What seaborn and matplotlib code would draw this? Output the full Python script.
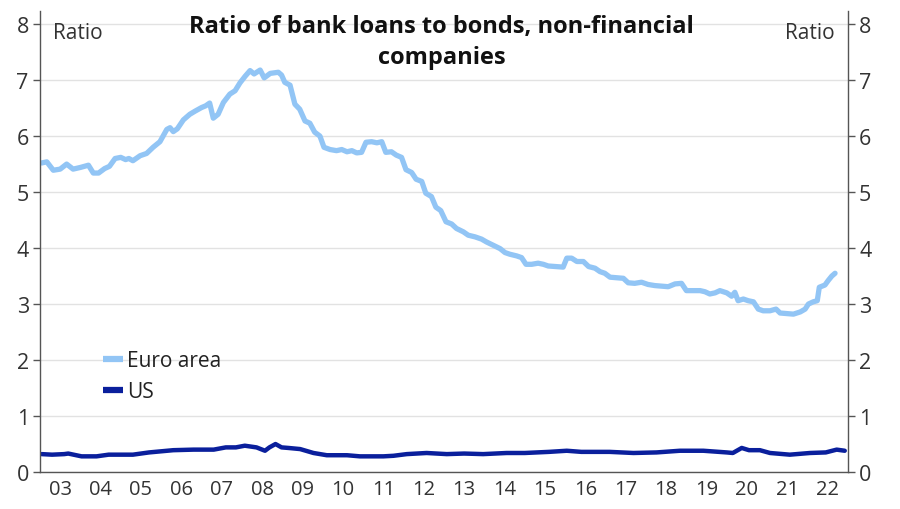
import matplotlib
matplotlib.use('Agg')
import matplotlib.pyplot as plt
import numpy as np
import pandas as pd
import seaborn as sns

# ---- data (decimal year, ratio) ----
euro_dates = [2003.04, 2003.17, 2003.33, 2003.5, 2003.66, 2003.82, 2004.0, 2004.2, 2004.32, 2004.45,
              2004.6, 2004.72, 2004.86, 2005.0, 2005.12, 2005.2, 2005.3, 2005.48, 2005.64, 2005.8,
              2005.97, 2006.14, 2006.22, 2006.3, 2006.4, 2006.55, 2006.71, 2006.85, 2007.0, 2007.1,
              2007.2, 2007.29, 2007.41, 2007.54, 2007.7, 2007.83, 2007.95, 2008.08, 2008.2, 2008.3,
              2008.45, 2008.55, 2008.7, 2008.9, 2008.98, 2009.06, 2009.19, 2009.31, 2009.43, 2009.56,
              2009.68, 2009.8, 2009.93, 2010.03, 2010.18, 2010.34, 2010.47, 2010.6, 2010.72, 2010.84,
              2010.96, 2011.07, 2011.21, 2011.34, 2011.46, 2011.56, 2011.7, 2011.82, 2011.95, 2012.06,
              2012.2, 2012.31, 2012.45, 2012.55, 2012.69, 2012.8, 2012.92, 2013.05, 2013.19, 2013.31,
              2013.48, 2013.6, 2013.77, 2013.93, 2014.05, 2014.22, 2014.39, 2014.51, 2014.63, 2014.8,
              2014.92, 2015.03, 2015.17, 2015.33, 2015.46, 2015.58, 2015.75, 2015.95, 2016.04, 2016.16,
              2016.29, 2016.45, 2016.58, 2016.74, 2016.86, 2016.98, 2017.11, 2017.28, 2017.44, 2017.56,
              2017.72, 2017.89, 2018.05, 2018.22, 2018.39, 2018.55, 2018.72, 2018.88, 2019.0, 2019.17,
              2019.34, 2019.46, 2019.58, 2019.71, 2019.83, 2020.0, 2020.12, 2020.2, 2020.28, 2020.41,
              2020.53, 2020.66, 2020.78, 2020.9, 2021.07, 2021.22, 2021.32, 2021.49, 2021.65, 2021.82,
              2021.94, 2022.02, 2022.14, 2022.24, 2022.29, 2022.43, 2022.51, 2022.6, 2022.68]
euro_values = [5.52, 5.54, 5.39, 5.41, 5.50, 5.41, 5.44, 5.48, 5.34, 5.34,
               5.42, 5.46, 5.60, 5.62, 5.58, 5.60, 5.56, 5.65, 5.69, 5.80,
               5.90, 6.12, 6.15, 6.08, 6.13, 6.29, 6.39, 6.45, 6.51, 6.54,
               6.59, 6.32, 6.39, 6.60, 6.75, 6.81, 6.95, 7.07, 7.17, 7.11,
               7.18, 7.04, 7.12, 7.14, 7.09, 6.96, 6.91, 6.57, 6.48, 6.27,
               6.23, 6.07, 6.00, 5.80, 5.76, 5.74, 5.76, 5.72, 5.74, 5.70,
               5.71, 5.89, 5.90, 5.88, 5.90, 5.71, 5.72, 5.66, 5.62, 5.40,
               5.35, 5.23, 5.19, 4.98, 4.92, 4.73, 4.67, 4.47, 4.43, 4.35,
               4.29, 4.23, 4.20, 4.16, 4.11, 4.05, 3.99, 3.92, 3.89, 3.86,
               3.83, 3.71, 3.71, 3.73, 3.71, 3.68, 3.67, 3.66, 3.82, 3.82,
               3.76, 3.76, 3.67, 3.64, 3.58, 3.55, 3.48, 3.47, 3.46, 3.38,
               3.37, 3.39, 3.35, 3.33, 3.32, 3.31, 3.36, 3.37, 3.24, 3.24,
               3.24, 3.22, 3.18, 3.20, 3.24, 3.20, 3.14, 3.21, 3.06, 3.09,
               3.06, 3.04, 2.91, 2.88, 2.88, 2.91, 2.84, 2.83, 2.82, 2.86,
               2.91, 3.00, 3.04, 3.06, 3.30, 3.34, 3.42, 3.50, 3.55]

us_dates = [2003.04, 2003.3, 2003.6, 2003.7, 2004.03, 2004.4, 2004.7, 2005.3, 2005.7, 2006.3,
            2006.8, 2007.3, 2007.6, 2007.85, 2008.07, 2008.36, 2008.57, 2008.68, 2008.83, 2008.98,
            2009.15, 2009.44, 2009.77, 2010.1, 2010.6, 2010.92, 2011.5, 2011.75, 2012.08, 2012.57,
            2013.07, 2013.5, 2013.97, 2014.55, 2015.0, 2015.6, 2016.04, 2016.4, 2017.1, 2017.69,
            2018.26, 2018.84, 2019.42, 2020.0, 2020.15, 2020.37, 2020.55, 2020.82, 2021.07, 2021.56,
            2022.06, 2022.45, 2022.72, 2022.92]
us_values = [0.32, 0.31, 0.32, 0.33, 0.28, 0.28, 0.31, 0.31, 0.35, 0.39,
             0.40, 0.40, 0.44, 0.44, 0.47, 0.44, 0.38, 0.44, 0.50, 0.44,
             0.43, 0.41, 0.34, 0.30, 0.30, 0.28, 0.28, 0.29, 0.32, 0.34,
             0.32, 0.33, 0.32, 0.34, 0.34, 0.36, 0.38, 0.36, 0.36, 0.34,
             0.35, 0.38, 0.38, 0.35, 0.34, 0.43, 0.39, 0.39, 0.34, 0.31,
             0.34, 0.35, 0.40, 0.38]

year_labels = ['03', '04', '05', '06', '07', '08', '09', '10', '11', '12',
               '13', '14', '15', '16', '17', '18', '19', '20', '21', '22']
series_names = ['Euro area', 'US']
series_colors = ['#92c5f5', '#0a1f9c']

df = pd.concat([
    pd.DataFrame({'date': euro_dates, 'ratio': euro_values, 'series': series_names[0]}),
    pd.DataFrame({'date': us_dates, 'ratio': us_values, 'series': series_names[1]}),
])

sns.set_style('white')
plt.rcParams['font.family'] = ['Open Sans', 'DejaVu Sans']

fig = plt.figure(figsize=(9, 5.1), dpi=100)
ax = fig.add_axes([0.0444, 0.0725, 0.8978, 0.9035])

sns.lineplot(data=df, x='date', y='ratio', hue='series', hue_order=series_names,
             palette=dict(zip(series_names, series_colors)), linewidth=3.6, ax=ax,
             estimator=None, sort=True)
for line, lw in zip(ax.lines, [3.8, 3.2]):
    line.set_linewidth(lw)
    line.set_solid_capstyle('round')

ax.set_xlim(2003, 2023)
ax.set_ylim(0, 8.23)
ax.set_xlabel('')
ax.set_ylabel('')

ax.set_yticks(range(0, 9))
ax.yaxis.grid(True, color='#e2e2e2', linewidth=1)
ax.set_axisbelow(True)
ax.tick_params(axis='y', which='both', left=True, right=True, labelleft=True, labelright=True,
               direction='out', length=5, width=1, color='#555555', labelsize=15.5,
               labelcolor='#333333', pad=3)

ax.set_xticks(np.arange(2003, 2024))
ax.set_xticklabels([])
ax.set_xticks(np.arange(2003.5, 2023), minor=True)
ax.set_xticklabels(year_labels, minor=True)
ax.tick_params(axis='x', which='major', direction='out', length=5, width=1, color='#555555')
ax.tick_params(axis='x', which='minor', length=0, labelsize=14.5, labelcolor='#333333', pad=5)

for side in ['left', 'right', 'bottom']:
    ax.spines[side].set_visible(True)
    ax.spines[side].set_color('#555555')
    ax.spines[side].set_linewidth(1)
ax.spines['top'].set_visible(False)

ax.text(0.016, 0.953, 'Ratio', transform=ax.transAxes, fontsize=15, color='#333333',
        ha='left', va='center')
ax.text(0.984, 0.953, 'Ratio', transform=ax.transAxes, fontsize=15, color='#333333',
        ha='right', va='center')
ax.text(0.497, 0.994, 'Ratio of bank loans to bonds, non-financial\ncompanies', transform=ax.transAxes,
        fontsize=17, fontweight='bold', color='#111111', ha='center', va='top', linespacing=1.38)

leg = ax.legend(loc='upper left', bbox_to_anchor=(0.078, 0.265), frameon=False, fontsize=15,
                handlelength=0.95, handletextpad=0.2, labelspacing=0.48, borderaxespad=0,
                borderpad=0)
for h in leg.get_lines():
    h.set_linewidth(4.5)
    h.set_solid_capstyle('butt')
for t in leg.get_texts():
    t.set_color('#222222')

fig.savefig('out.png', dpi=100)
